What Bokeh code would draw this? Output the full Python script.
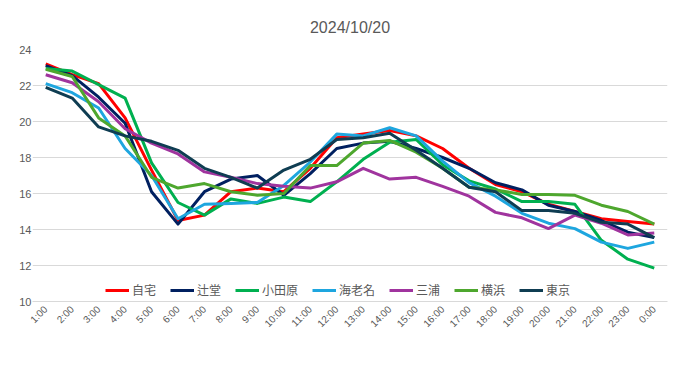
import math
from bokeh.plotting import figure
from bokeh.models import Legend, LegendItem
from bokeh.embed import file_html
from bokeh.resources import INLINE

hours = ["1:00", "2:00", "3:00", "4:00", "5:00", "6:00", "7:00", "8:00", "9:00", "10:00",
         "11:00", "12:00", "13:00", "14:00", "15:00", "16:00", "17:00", "18:00", "19:00",
         "20:00", "21:00", "22:00", "23:00", "0:00"]

jitaku = [23.2, 22.6, 22.1, 20.2, 17.3, 14.5, 14.8, 16.1, 16.3, 16.1, 17.4, 19.1,
          19.3, 19.5, 19.2, 18.5, 17.4, 16.5, 16.1, 15.4, 15.0, 14.6, 14.45, 14.3]
tsujido = [23.1, 22.55, 21.35, 19.9, 16.1, 14.3, 16.1, 16.8, 17.0, 15.9, 17.1, 18.5,
           18.8, 18.9, 18.5, 18.0, 17.4, 16.6, 16.2, 15.35, 15.0, 14.5, 13.85, 13.55]
odawara = [22.95, 22.8, 22.05, 21.3, 17.7, 15.5, 14.8, 15.7, 15.45, 15.8, 15.55, 16.65,
           17.9, 18.85, 19.0, 17.6, 16.7, 16.25, 15.55, 15.55, 15.4, 13.4, 12.35, 11.85]
ebina = [22.1, 21.6, 20.75, 18.5, 17.0, 14.6, 15.4, 15.45, 15.5, 16.45, 17.75, 19.3,
         19.2, 19.65, 19.2, 17.8, 16.6, 15.85, 14.9, 14.35, 14.05, 13.3, 12.95, 13.3]
miura = [22.6, 22.15, 21.1, 19.6, 18.8, 18.2, 17.2, 16.9, 16.55, 16.4, 16.3, 16.65,
         17.4, 16.8, 16.9, 16.4, 15.85, 14.95, 14.65, 14.05, 14.8, 14.35, 13.7, 13.8]
yokohama = [22.9, 22.5, 20.2, 19.2, 16.9, 16.3, 16.55, 16.1, 15.9, 16.0, 17.55, 17.55,
            18.8, 18.95, 18.3, 17.4, 16.35, 16.2, 15.95, 15.95, 15.9, 15.35, 15.0, 14.3]
tokyo = [21.9, 21.3, 19.7, 19.2, 18.9, 18.4, 17.4, 16.9, 16.3, 17.3, 17.9, 19.0,
         19.1, 19.35, 18.4, 17.4, 16.35, 16.1, 15.05, 15.05, 14.9, 14.4, 14.3, 13.55]

names = ["自宅", "辻堂", "小田原", "海老名", "三浦", "横浜", "東京"]
series = [jitaku, tsujido, odawara, ebina, miura, yokohama, tokyo]
colors = ["#FF0000", "#002060", "#00B050", "#1EA6DF", "#A0349E", "#4EA72E", "#0F3D52"]

p = figure(x_range=hours, y_range=(10, 24), frame_width=635, frame_height=252,
           output_backend="svg", toolbar_location=None,
           min_border_left=32, min_border_right=6, min_border_top=49, min_border_bottom=74)

p.title.text = "2024/10/20"
p.title.align = "center"
p.title.text_font = "Liberation Sans"
p.title.text_font_size = "16px"
p.title.text_font_style = "normal"
p.title.text_color = "#595959"
p.title.standoff = 27

p.outline_line_color = None
p.background_fill_color = "white"
p.border_fill_color = "white"

p.xgrid.grid_line_color = None
p.ygrid.grid_line_color = "#D9D9D9"
p.ygrid.grid_line_width = 1
p.yaxis.ticker = [10, 12, 14, 16, 18, 20, 22, 24]

p.yaxis.axis_line_color = None
p.yaxis.major_tick_line_color = None
p.yaxis.minor_tick_line_color = None
p.yaxis.major_tick_out = 0
p.yaxis.major_label_text_color = "#595959"
p.yaxis.major_label_text_font = "Liberation Sans"
p.yaxis.major_label_text_font_size = "11px"
p.yaxis.major_label_standoff = 1

p.xaxis.axis_line_color = "#D9D9D9"
p.xaxis.major_tick_line_color = None
p.xaxis.minor_tick_line_color = None
p.xaxis.major_tick_out = 0
p.xaxis.axis_label_standoff = 0
p.xaxis.major_label_text_color = "#595959"
p.xaxis.major_label_text_font = "Liberation Sans"
p.xaxis.major_label_text_font_size = "10px"
p.xaxis.major_label_orientation = math.pi / 4
p.xaxis.major_label_standoff = 6

items = []
for name, vals, col in zip(names, series, colors):
    r = p.line(hours, vals, line_color=col, line_width=3, line_join="round")
    items.append(LegendItem(label=name, renderers=[r]))

legend = Legend(items=items, orientation="horizontal", location=(73, 3),
                label_text_font="Noto Sans CJK JP", label_text_font_size="12px",
                label_text_color="#595959", glyph_width=24, glyph_height=12,
                label_standoff=3, spacing=14, border_line_color=None,
                background_fill_alpha=0, padding=0, margin=0,
                label_height=14)
p.add_layout(legend, "center")

open("out.html", "w").write(file_html(p, INLINE))
